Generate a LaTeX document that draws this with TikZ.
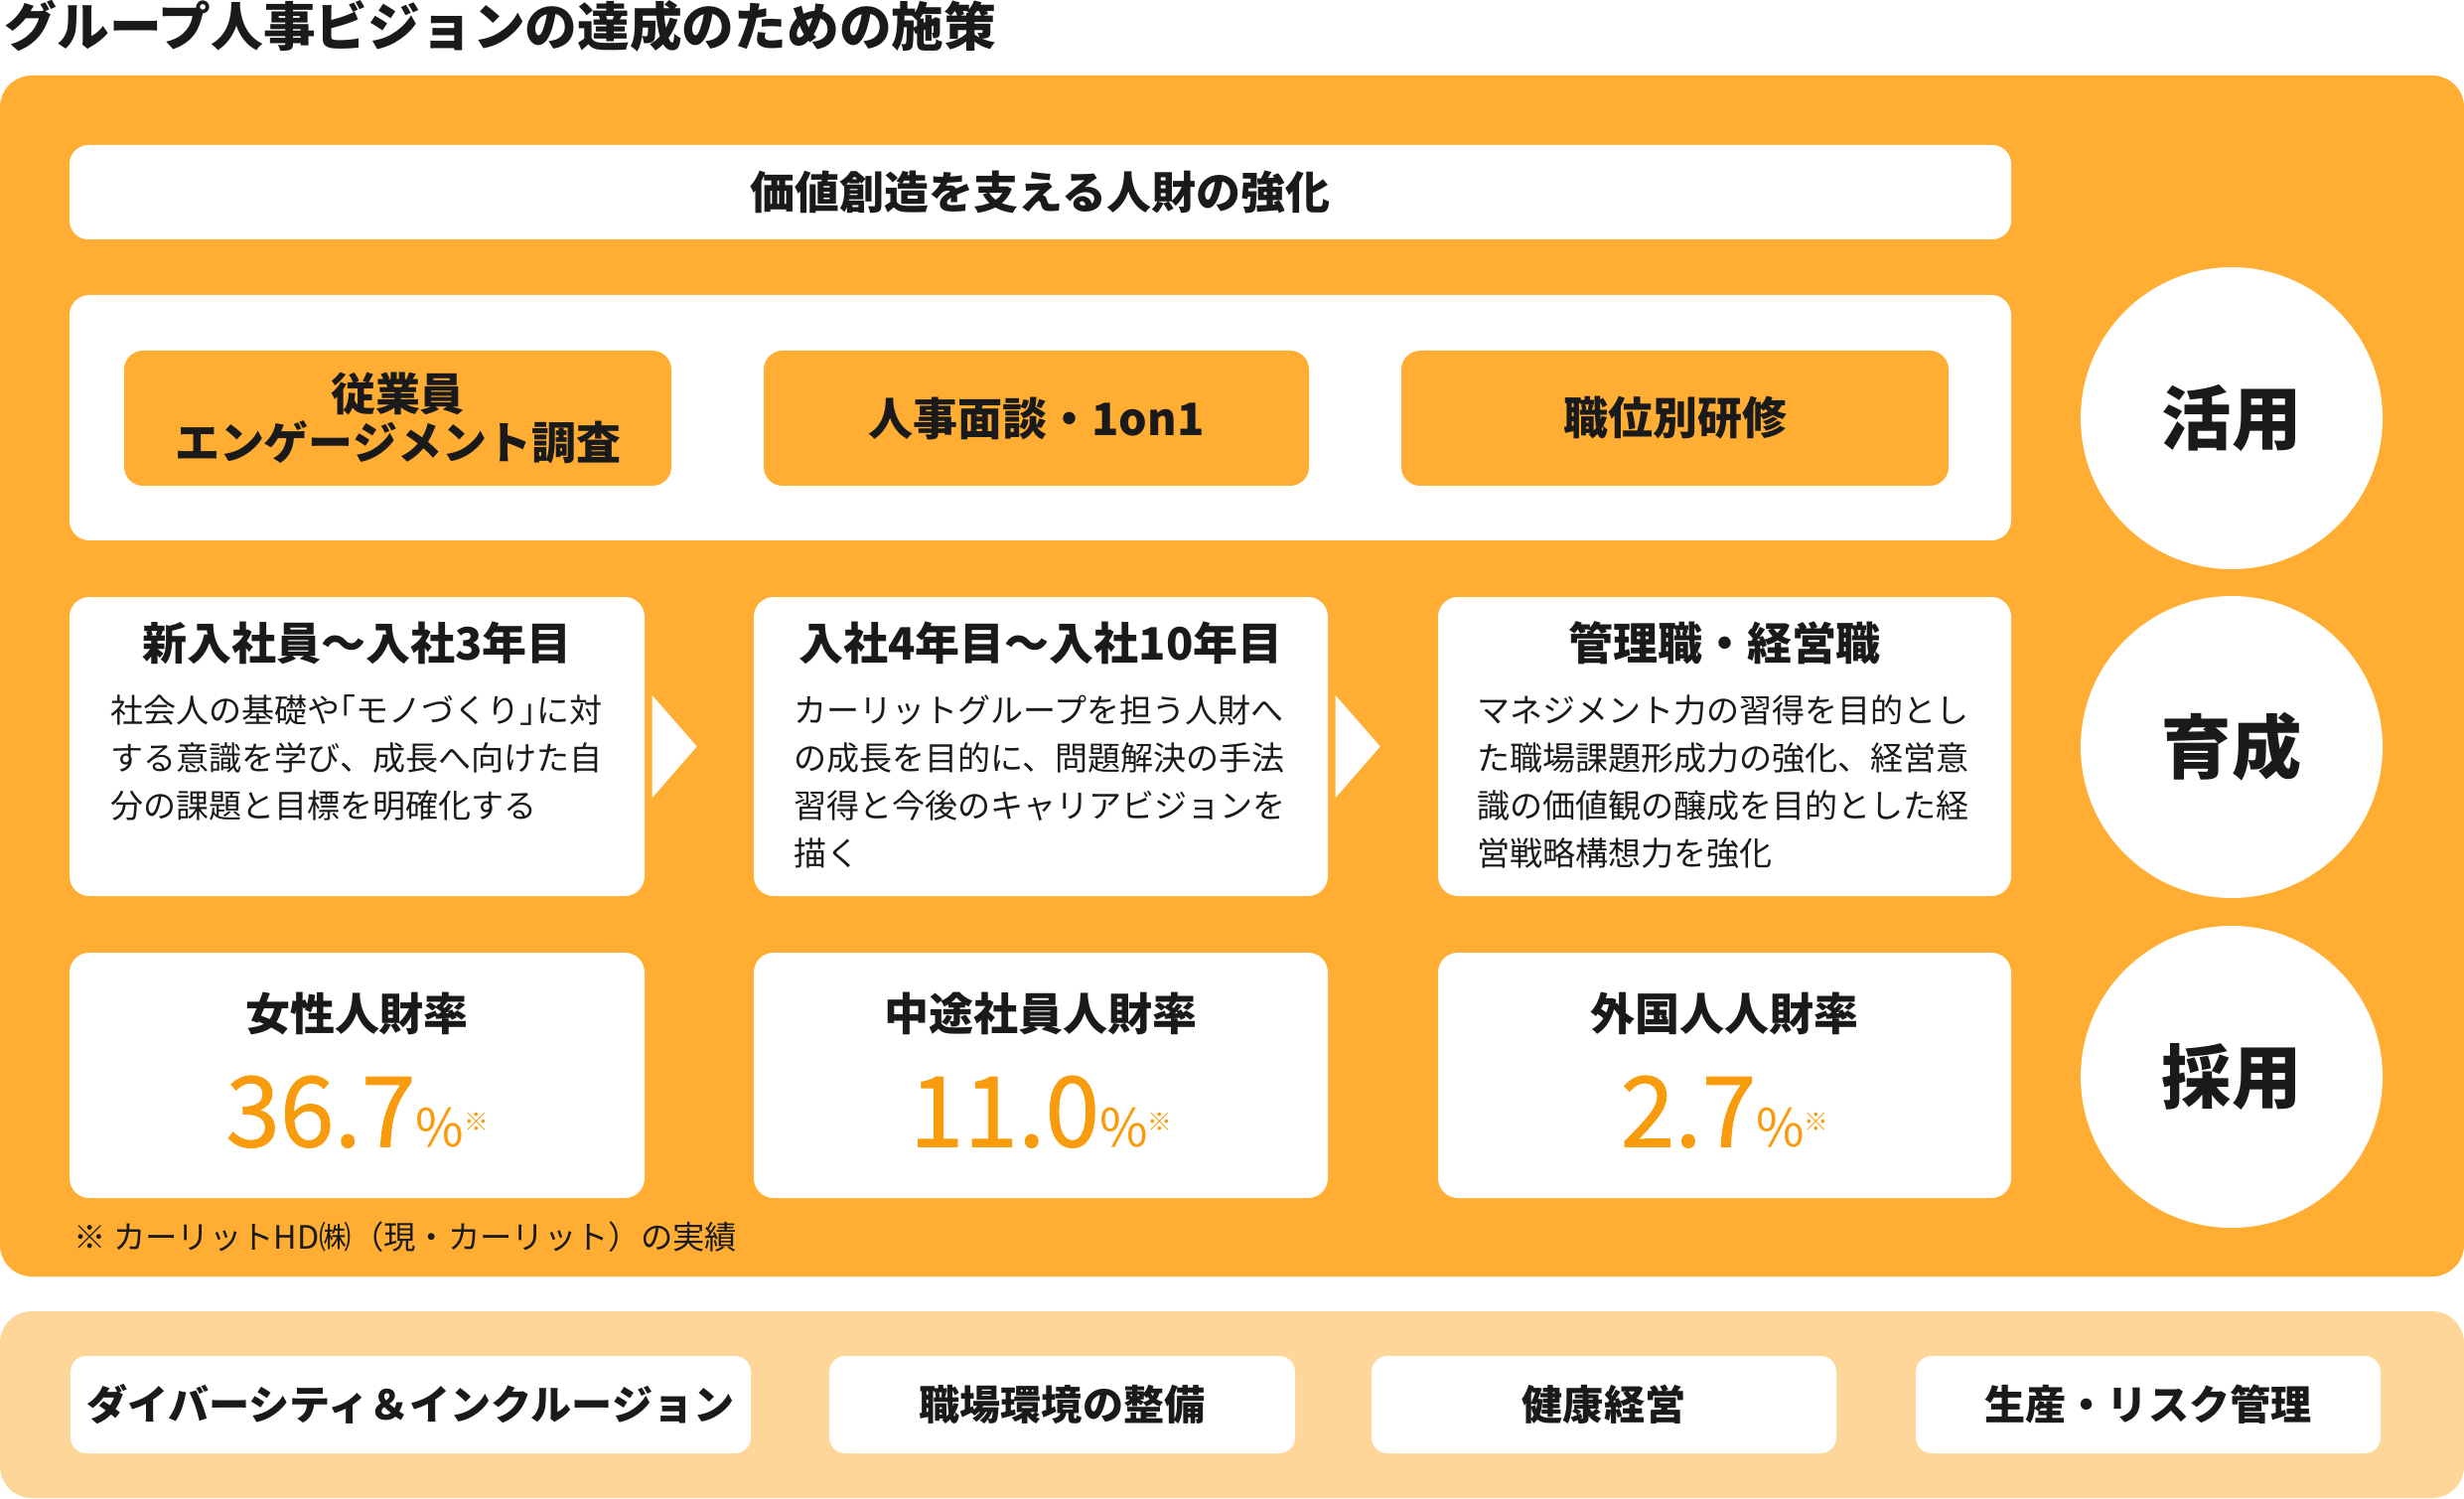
\documentclass[tikz,border=0pt]{standalone}
\usepackage{fontspec}
\setmainfont{Noto Sans CJK JP}
\newfontfamily\numfont[FakeBold=0.9]{Noto Sans CJK JP}
\usetikzlibrary{calc}
\definecolor{mainorange}{HTML}{FFAD33}
\definecolor{lightorange}{HTML}{FED699}
\definecolor{numorange}{HTML}{F89C0E}
\definecolor{txt}{HTML}{1A1A1A}
\tikzset{
  panel/.style={fill=white, rounded corners=2mm, inner sep=0pt, text=txt},
  obox/.style={fill=mainorange, rounded corners=1.9mm, inner sep=0pt, text=txt},
  circ/.style={circle, fill=white, minimum size=30.4mm, inner sep=0pt, text=txt, font=\fontsize{20}{20}\selectfont\bfseries},
  boldtxt/.style={font=\fontsize{12.8}{14}\selectfont\bfseries, text=txt, inner sep=0pt, align=center},
  bottomtxt/.style={font=\fontsize{11.7}{13}\selectfont\bfseries, text=txt},
  body/.style={font=\fontsize{9.4}{13.66}\selectfont, text=txt, align=left, anchor=north west, inner sep=0pt},
  numtxt/.style={text=numorange, anchor=base, inner sep=0pt},
  chev/.style={fill=white, draw=none}
}
\newcommand{\bignum}[1]{{\numfont\fontsize{28}{28}\selectfont #1}{\fontsize{15}{15}\selectfont\%}\raisebox{4.5pt}{\fontsize{7}{7}\selectfont ※}}
\newcommand{\lbr}{\kern-0.5em「}
\newcommand{\rbr}{」\kern-0.5em}
\begin{document}
\begin{tikzpicture}[x=0.1mm,y=-0.1mm]
\useasboundingbox (0,0) rectangle (2481,1509);
% title
\node[anchor=west, inner sep=0pt, text=txt, font=\fontsize{15}{16}\selectfont\bfseries] (title) at (4,26.5) {グループ人事ビジョンの達成のための施策};
% main orange panel
\node[fill=mainorange, rounded corners=3.2mm, minimum width=248.1mm, minimum height=120.9mm, inner sep=0pt] (main) at (1240.5,680.5) {};
% bottom light panel
\node[fill=lightorange, rounded corners=3.2mm, minimum width=248.1mm, minimum height=18.8mm, inner sep=0pt] (base) at (1240.5,1414) {};
% top bar
\node[panel, rounded corners=1.9mm, minimum width=195.5mm, minimum height=9.5mm, boldtxt] (bar) at (1047.5,193.5) {価値創造を支える人財の強化};
% katsuyou panel
\node[panel, minimum width=195.5mm, minimum height=24.7mm] (kpanel) at (1047.5,420.5) {};
\node[obox, minimum width=55.1mm, minimum height=13.6mm, boldtxt] (k1) at (400.5,421) {従業員\\エンゲージメント調査};
\node[obox, minimum width=54.9mm, minimum height=13.6mm, boldtxt] (k2) at (1043.5,421) {人事面談・1on1};
\node[obox, minimum width=55.1mm, minimum height=13.6mm, boldtxt] (k3) at (1686.5,421) {職位別研修};
% circles
\node[circ] (c1) at (2247,421) {活用};
\node[circ] (c2) at (2247,752) {育成};
\node[circ] (c3) at (2247,1084) {採用};
% row 2 (ikusei)
\node[panel, minimum width=57.9mm, minimum height=30.1mm] (r2a) at (359.5,751.5) {};
\node[panel, minimum width=57.8mm, minimum height=30.1mm] (r2b) at (1048,751.5) {};
\node[panel, minimum width=57.7mm, minimum height=30.1mm] (r2c) at (1736.5,751.5) {};
\node[boldtxt] (h2a) at ($(r2a.north)+(0,47)$) {新入社員～入社3年目};
\node[boldtxt] (h2b) at ($(r2b.north)+(0,47)$) {入社4年目～入社10年目};
\node[boldtxt] (h2c) at ($(r2c.north)+(0,47)$) {管理職・経営職};
\node[body] (t2a) at ($(r2a.north west)+(41,92.4)$) {\strut 社会人の基礎や\lbr モノづくり\rbr に対\\する意識を学び、成長へ向けた自\\分の課題と目標を明確化する};
\node[body] (t2b) at ($(r2b.north west)+(40,92.4)$) {\strut カーリットグループを担う人財へ\\の成長を目的に、問題解決の手法\\習得と今後のキャリアビジョンを\\描く};
\node[body] (t2c) at ($(r2c.north west)+(39,92.4)$) {\strut マネジメント力の習得を目的とし\\た職場課題形成力の強化、経営意\\識の価値観の醸成を目的とした経\\営戦略構想力を強化};
% chevrons
\fill[chev] ($(r2a.east)+(7,-51.5)$) -- ($(r2a.east)+(52,0)$) -- ($(r2a.east)+(7,51.5)$) -- cycle;
\fill[chev] ($(r2b.east)+(7,-51.5)$) -- ($(r2b.east)+(52,0)$) -- ($(r2b.east)+(7,51.5)$) -- cycle;
% row 3 (saiyou)
\node[panel, minimum width=57.9mm, minimum height=24.7mm] (r3a) at (359.5,1082.5) {};
\node[panel, minimum width=57.8mm, minimum height=24.7mm] (r3b) at (1048,1082.5) {};
\node[panel, minimum width=57.7mm, minimum height=24.7mm] (r3c) at (1736.5,1082.5) {};
\node[boldtxt] (h3a) at ($(r3a.north)+(0,62)$) {女性人財率};
\node[boldtxt] (h3b) at ($(r3b.north)+(0,62)$) {中途社員人財率};
\node[boldtxt] (h3c) at ($(r3c.north)+(0,62)$) {外国人人財率};
\node[numtxt] (n3a) at ($(r3a.north)+(0,196)$) {\bignum{36.7}};
\node[numtxt] (n3b) at ($(r3b.north)+(0,196)$) {\bignum{11.0}};
\node[numtxt] (n3c) at ($(r3c.north)+(0,196)$) {\bignum{2.7}};
% footnote
\node[anchor=base west, inner sep=0pt, text=txt, font=\fontsize{9.2}{10}\selectfont] (note) at (74,1257) {※ カーリットHD㈱（現・カーリット）の実績};
% bottom boxes
\node[panel, rounded corners=1.6mm, minimum width=68.5mm, minimum height=9.8mm, bottomtxt] (b1) at (413.5,1414) {ダイバーシティ＆インクルージョン};
\node[panel, rounded corners=1.6mm, minimum width=46.9mm, minimum height=9.8mm, bottomtxt] (b2) at (1069.5,1414) {職場環境の整備};
\node[panel, rounded corners=1.6mm, minimum width=46.8mm, minimum height=9.8mm, bottomtxt] (b3) at (1615,1414) {健康経営};
\node[panel, rounded corners=1.6mm, minimum width=46.8mm, minimum height=9.8mm, bottomtxt] (b4) at (2163,1414) {生産・リスク管理};
\end{tikzpicture}
\end{document}
